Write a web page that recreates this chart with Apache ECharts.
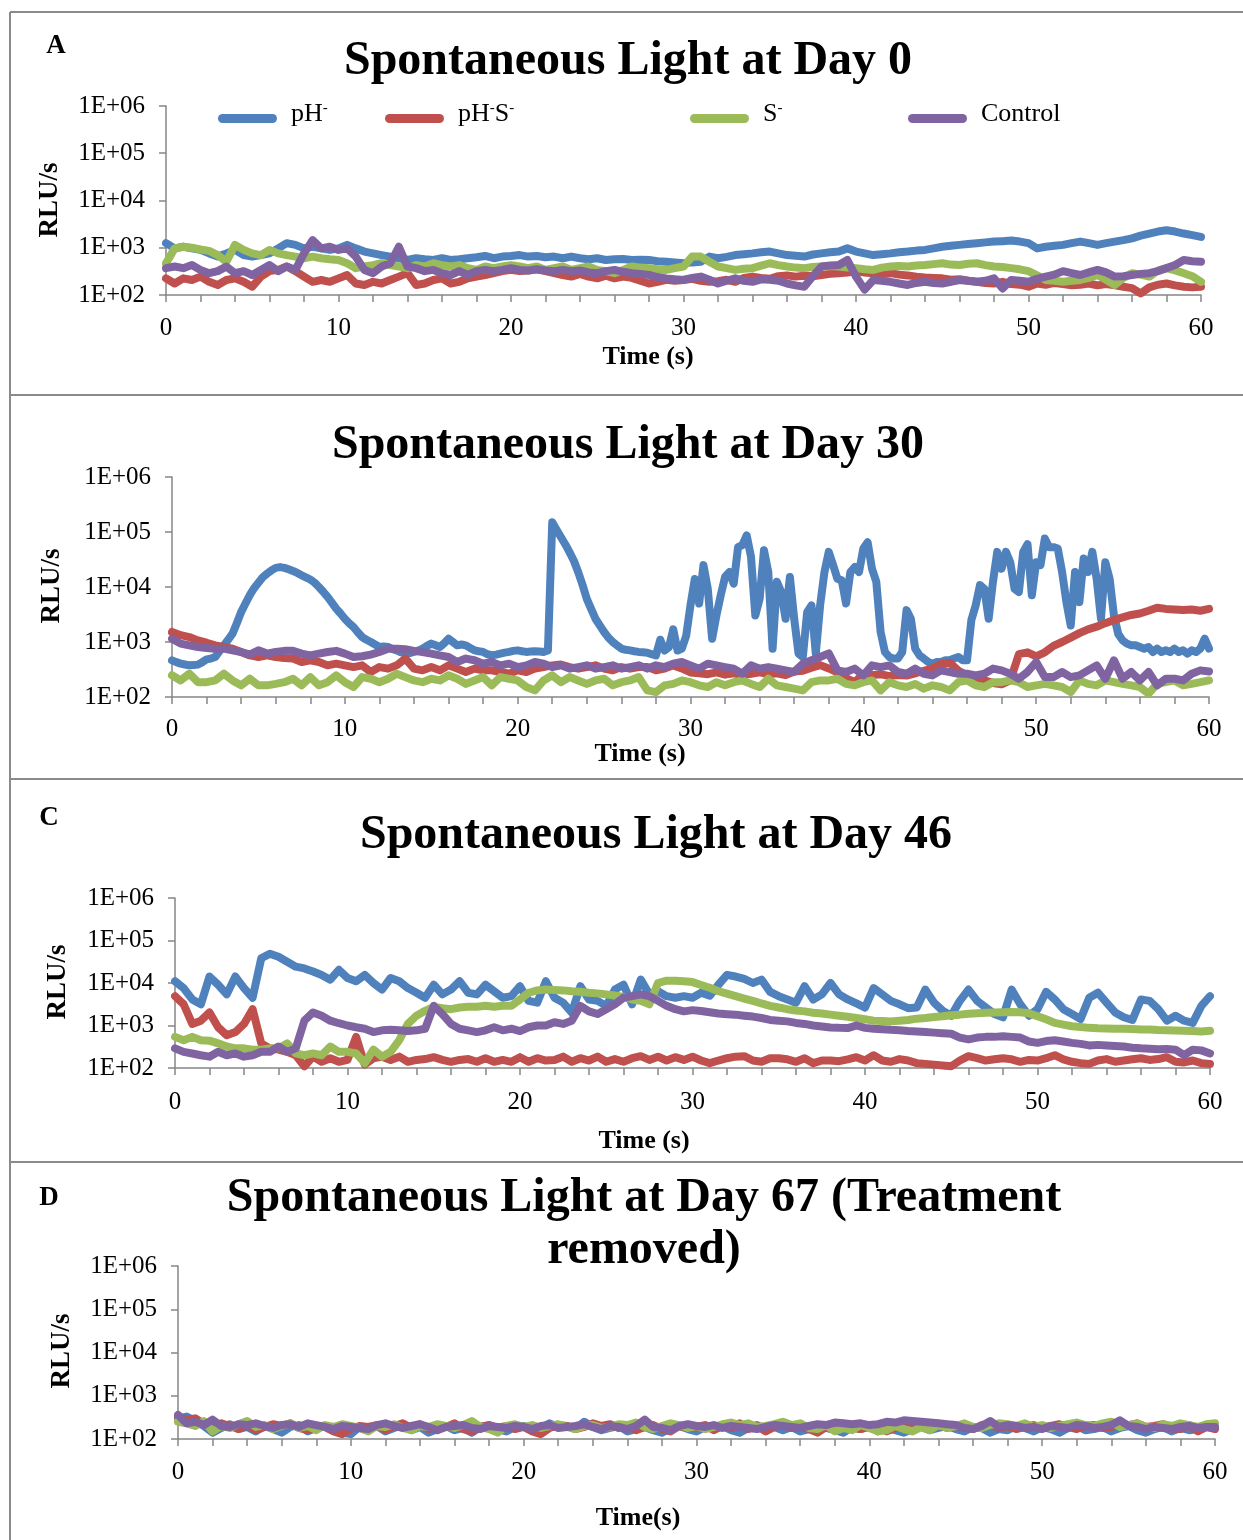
<!DOCTYPE html>
<html>
<head>
<meta charset="utf-8">
<title>Spontaneous Light</title>
<script src="https://cdn.jsdelivr.net/npm/echarts@6.0.0/dist/echarts.min.js"></script>
<style>
  html, body { margin: 0; padding: 0; background: #fff; }
  #chart { width: 1243px; height: 1540px; }
</style>
</head>
<body>
<div id="chart"></div>
<script>
// series names / colours (Excel 2007 palette)
var NAMES = ['pH-', 'pH-S-', 'S-', 'Control'];
var COLORS = ['#4f81bd', '#c0504d', '#9bbb59', '#8064a2'];
var yTickLabels = ['1E+02', '1E+03', '1E+04', '1E+05', '1E+06'];
var xMin = 0, xMax = 60, xStep = 10;

var STEP = 0.5;   // seconds between readings
var FINE = 0.25;  // finer readings for the spiky day-30 pH- trace

/* ---------- Day 0 ---------- */
var a0_ph = [
  1250, 970, 1050, 970, 900, 760, 650, 760, 900, 700,
  650, 700, 760, 970, 1250, 1150, 970, 1050, 970, 900,
  970, 1150, 970, 830, 760, 700, 650, 600, 550, 600,
  570, 550, 600, 550, 570, 600, 630, 670, 600, 650,
  670, 700, 650, 670, 630, 650, 600, 650, 600, 570,
  600, 550, 570, 580, 550, 560, 550, 520, 505, 490,
  470, 490, 505, 650, 600, 640, 700, 730, 760, 800,
  830, 760, 700, 680, 650, 720, 760, 800, 830, 970,
  830, 760, 700, 730, 760, 800, 830, 870, 900, 970,
  1050, 1100, 1150, 1200, 1250, 1300, 1350, 1380, 1420, 1350,
  1250, 970, 1050, 1100, 1150, 1250, 1350, 1250, 1150, 1250,
  1350, 1450, 1580, 1800, 2000, 2200, 2350, 2200, 2000, 1850,
  1700
];
var a0_phs = [
  225, 175, 225, 208, 245, 190, 163, 208, 225, 190,
  150, 245, 320, 340, 400, 320, 245, 190, 208, 190,
  225, 265, 175, 163, 190, 175, 208, 245, 290, 163,
  175, 208, 225, 175, 190, 225, 245, 265, 290, 320,
  340, 320, 330, 350, 320, 290, 265, 245, 280, 245,
  225, 255, 225, 245, 230, 200, 175, 190, 210, 200,
  208, 220, 200, 190, 195, 210, 190, 230, 245, 230,
  220, 250, 260, 245, 255, 250, 265, 280, 290, 300,
  320, 300, 290, 280, 290, 270, 260, 245, 235, 230,
  225, 210, 215, 200, 190, 180, 175, 190, 170, 165,
  150, 175, 165, 180, 170, 160, 165, 175, 160, 170,
  160, 150, 140, 108, 145, 165, 175, 160, 150, 145,
  150
];
var a0_s = [
  470, 970, 1050, 1000, 920, 860, 700, 505, 1150, 900,
  760, 700, 900, 760, 700, 650, 600, 650, 600, 570,
  550, 470, 370, 400, 430, 470, 430, 400, 370, 430,
  400, 470, 430, 400, 430, 370, 340, 400, 370, 400,
  430, 400, 370, 400, 340, 370, 400, 340, 370, 400,
  340, 320, 290, 340, 400, 380, 370, 350, 340, 370,
  400, 650, 650, 505, 400, 370, 340, 360, 370, 420,
  470, 430, 400, 380, 370, 390, 400, 410, 400, 380,
  370, 350, 340, 380, 400, 410, 400, 420, 430, 450,
  470, 440, 430, 460, 470, 430, 400, 390, 370, 350,
  320, 260, 208, 200, 190, 200, 208, 230, 265, 210,
  163, 230, 290, 270, 245, 330, 370, 330, 290, 250,
  190
];
var a0_ctrl = [
  370, 400, 370, 430, 340, 290, 320, 400, 290, 320,
  265, 340, 430, 320, 400, 340, 760, 1450, 970, 1050,
  900, 970, 650, 340, 290, 400, 470, 1050, 400, 370,
  320, 340, 290, 265, 320, 265, 320, 340, 320, 340,
  370, 340, 330, 350, 330, 320, 340, 320, 330, 300,
  290, 320, 340, 310, 290, 280, 265, 240, 225, 215,
  208, 230, 245, 210, 175, 200, 225, 200, 190, 215,
  210, 200, 175, 160, 150, 250, 400, 420, 430, 550,
  245, 130, 208, 200, 190, 175, 163, 180, 190, 180,
  175, 190, 208, 200, 190, 200, 225, 138, 208, 200,
  190, 220, 245, 270, 320, 290, 265, 300, 340, 300,
  245, 250, 265, 280, 290, 320, 370, 430, 550, 520,
  505
];

/* ---------- Day 30 ---------- */
var b30_ph = [
  464, 430, 405, 390,  376, 380, 388, 430,  483, 500, 533, 680,  870, 1100, 1415, 2200,
  3500, 5000, 7100, 9500,  12000, 15000, 17500, 20000,  22300, 23000, 22300, 21000,
  19600, 18000, 16300, 15000,  13700, 12000, 10000, 8200,  6600, 5200, 4050, 3300,
  2650, 2200, 1870, 1500,  1230, 1100, 1000, 900,  810, 830, 810, 750,  705, 650, 615, 630,
  660, 700, 760, 850,  935, 870, 810, 950,  1150, 1000, 870, 900,  870, 780, 705, 680,
  660, 600, 570, 590,  615, 640, 660, 690,  705, 680, 660, 670,  680, 670, 660, 700,
  150000, 110000, 81000, 60000,  43000, 30000, 18700, 11000,  6100, 4000, 2650, 2000,
  1520, 1200, 1000, 870,  760, 720, 705, 680,  660, 650, 640, 600,  570, 1100, 700, 800,
  1700, 700, 760, 1300,  4700, 14000, 5000, 25000,  9300, 1150, 3030, 7100,
  15200, 18700, 11500, 53000,  57600, 87000, 35500, 3030,  6100, 46500, 18700, 757,
  12400, 8100, 2650, 15200,  2650, 615, 534, 3500,  4640, 615, 4640, 18700,
  43500, 25000, 14100, 13200,  5000, 18700, 23000, 18700,  50000, 65000, 21500, 12400,
  1520, 658, 534, 500,  500, 658, 3800, 2650,  757, 570, 500, 433,  404, 433, 433, 465,
  465, 500, 534, 465,  465, 2500, 4640, 10800,  9300, 2650, 12400, 43500,
  21500, 43500, 28200, 9300,  8100, 43500, 60000, 7100,  28200, 25000, 76000, 53000,
  53000, 50000, 18700, 5300,  2000, 18700, 5300, 33000,  18700, 43500, 14100, 2650,
  28200, 14100, 3030, 1400,  1070, 935, 870, 870,  810, 757, 810, 658,  757, 658, 705, 658,
  757, 658, 705, 615,  705, 658, 757, 1150,
  757
];
var b30_phs = [
  1520, 1330, 1230, 1070, 970, 870, 810, 757, 658, 570,
  534, 570, 534, 510, 500, 433, 465, 433, 376, 404,
  376, 350, 376, 285, 350, 328, 376, 500, 328, 305,
  350, 305, 376, 328, 285, 328, 305, 305, 285, 265,
  305, 285, 328, 350, 376, 390, 350, 328, 350, 376,
  328, 305, 350, 328, 350, 350, 305, 328, 376, 330,
  280, 270, 260, 280, 255, 270, 250, 265, 280, 260,
  270, 250, 290, 300, 340, 380, 330, 280, 220, 186,
  260, 250, 260, 240, 250, 245, 270, 300, 330, 400,
  420, 300, 250, 220, 200, 180, 170, 200, 600, 650,
  550, 650, 850, 1000, 1200, 1450, 1700, 1900, 2200, 2500,
  2800, 3100, 3300, 3700, 4200, 4000, 3900, 3800, 3900, 3700,
  4000
];
var b30_s = [
  248, 200, 265, 186, 186, 200, 265, 200, 163, 215,
  163, 163, 173, 186, 215, 163, 230, 163, 186, 248,
  186, 152, 230, 215, 186, 215, 265, 230, 200, 186,
  215, 200, 248, 215, 173, 200, 230, 163, 230, 215,
  200, 152, 132, 200, 248, 186, 230, 200, 173, 200,
  215, 163, 186, 200, 230, 132, 123, 163, 173, 200,
  186, 163, 152, 186, 163, 186, 200, 173, 152, 215,
  163, 152, 142, 132, 186, 200, 200, 215, 173, 163,
  186, 200, 132, 186, 163, 152, 173, 142, 163, 152,
  132, 186, 200, 163, 152, 186, 186, 200, 186, 152,
  163, 173, 163, 152, 123, 200, 173, 163, 200, 186,
  173, 163, 152, 115, 173, 186, 200, 163, 173, 186,
  200
];
var b30_ctrl = [
  1150, 935, 870, 810, 780, 757, 757, 705, 658, 590,
  705, 615, 658, 690, 690, 615, 570, 615, 658, 690,
  615, 534, 550, 590, 658, 757, 757, 740, 690, 658,
  615, 570, 534, 433, 500, 465, 404, 433, 376, 404,
  350, 376, 433, 404, 350, 376, 328, 350, 376, 328,
  350, 376, 328, 350, 376, 328, 376, 350, 404, 433,
  376, 328, 404, 376, 350, 328, 265, 376, 328, 350,
  328, 305, 285, 404, 465, 534, 620, 305, 285, 328,
  247, 376, 350, 376, 285, 265, 328, 265, 247, 305,
  285, 265, 265, 247, 265, 328, 305, 265, 215, 285,
  433, 230, 230, 285, 230, 247, 305, 376, 215, 465,
  215, 285, 200, 285, 163, 215, 215, 200, 265, 305,
  290
];

/* ---------- Day 46 ---------- */
var c46_ph = [
  11000, 7600, 4100, 3160, 14200, 9100, 5400, 14200, 7600, 4500,
  38000, 49000, 41500, 31600, 24200, 22000, 18600, 15500, 12000, 20400,
  13100, 11000, 15500, 10000, 7000, 13100, 11000, 7600, 5900, 4500,
  9100, 5400, 7000, 11000, 5900, 5400, 9100, 6400, 4500, 4900,
  8400, 3800, 3450, 11000, 4500, 3450, 2000, 8400, 4100, 3800,
  2900, 7000, 9100, 3160, 12000, 5400, 6400, 4900, 4500, 4900,
  4500, 5900, 5000, 9100, 15500, 14200, 12500, 10000, 12000, 6200,
  4900, 4100, 3450, 8400, 4100, 5400, 10000, 5400, 4100, 3300,
  2650, 7600, 5400, 3800, 3160, 2550, 2650, 7000, 3450, 2220,
  1700, 3800, 7000, 3800, 2650, 1860, 1560, 7000, 3160, 1700,
  2420, 6200, 4100, 2420, 1860, 1420, 4500, 5900, 3450, 2030,
  1560, 1350, 4100, 3800, 2420, 1300, 1700, 1300, 1150, 2900,
  4900
];
var c46_phs = [
  4900, 3160, 1090, 1300, 2030, 910, 590, 700, 1090, 2420,
  380, 290, 270, 240, 200, 110, 185, 140, 170, 140,
  155, 540, 120, 170, 185, 155, 185, 140, 155, 162,
  180, 155, 140, 155, 162, 140, 170, 140, 155, 140,
  180, 140, 170, 150, 155, 185, 140, 170, 150, 185,
  140, 162, 140, 170, 190, 155, 185, 150, 180, 155,
  185, 150, 130, 150, 170, 185, 190, 150, 140, 170,
  170, 160, 140, 170, 130, 150, 150, 145, 160, 180,
  150, 200, 150, 140, 162, 150, 130, 125, 120, 115,
  110, 150, 190, 170, 150, 160, 170, 160, 140, 155,
  150, 170, 200, 160, 140, 130, 125, 150, 162, 140,
  150, 160, 170, 155, 162, 180, 140, 135, 150, 130,
  125
];
var c46_s = [
  540, 450, 540, 450, 440, 380, 320, 290, 290, 270,
  270, 290, 290, 380, 220, 200, 220, 200, 320, 240,
  240, 220, 130, 270, 185, 240, 450, 1090, 1700, 2220,
  2750, 2550, 2420, 2650, 2750, 2750, 2900, 2750, 2900, 2900,
  4100, 5900, 6700, 7000, 6800, 6700, 6400, 6200, 5900, 5700,
  5400, 5100, 4700, 4100, 3800, 3160, 10000, 11300, 11300, 11000,
  10500, 9000, 7700, 6400, 5600, 4900, 4300, 3800, 3300, 2900,
  2650, 2420, 2250, 2150, 2000, 1920, 1800, 1700, 1600, 1500,
  1400, 1300, 1270, 1250, 1300, 1350, 1450, 1500, 1580, 1650,
  1750, 1800, 1900, 1950, 2000, 2020, 2050, 2070, 2050, 1950,
  1650, 1400, 1150, 1050, 960, 920, 880, 860, 850, 840,
  840, 830, 810, 800, 780, 770, 760, 750, 740, 720,
  750
];
var c46_ctrl = [
  290, 240, 220, 200, 185, 240, 200, 220, 185, 200,
  240, 240, 320, 240, 290, 1300, 2030, 1700, 1300, 1130,
  1000, 910, 840, 700, 770, 790, 770, 740, 770, 840,
  2900, 1860, 1090, 840, 770, 700, 770, 910, 770, 840,
  740, 910, 1000, 1000, 1190, 1090, 1300, 2900, 2150, 1860,
  2420, 3160, 4500, 4900, 5400, 4900, 3800, 2900, 2420, 2150,
  2300, 2200, 2050, 1920, 1850, 1800, 1700, 1620, 1500, 1350,
  1300, 1250, 1150, 1090, 1000, 950, 900, 880, 870, 1000,
  880, 840, 820, 790, 770, 740, 720, 700, 680, 660,
  640, 520, 470, 520, 540, 540, 560, 540, 520, 420,
  390, 430, 450, 420, 390, 370, 340, 350, 340, 330,
  320, 300, 290, 285, 275, 280, 270, 200, 270, 260,
  220
];

/* ---------- Day 67 (treatment removed) ---------- */
var d67_ph = [
  300, 330, 260, 200, 140, 180, 220, 170, 190, 150,
  200, 170, 140, 190, 210, 150, 180, 200, 160, 140,
  130, 190, 170, 200, 150, 180, 210, 160, 190, 140,
  170, 200, 160, 180, 140, 190, 210, 170, 150, 190,
  200, 160, 180, 230, 190, 200, 170, 250, 190, 160,
  180, 200, 150, 170, 190, 160, 140, 180, 200, 170,
  150, 190, 170, 200, 160, 140, 180, 210, 170, 190,
  160, 190, 150, 170, 200, 180, 160, 140, 190, 170,
  200, 150, 180, 160, 140, 170, 190, 160, 180, 200,
  170, 150, 190, 180, 140, 170, 160, 200, 180, 150,
  190, 170, 140, 180, 200, 160, 170, 190, 150, 180,
  200, 160, 140, 170, 190, 150, 180, 160, 170, 190,
  180
];
var d67_phs = [
  330, 280, 300, 220, 190, 230, 200, 170, 210, 160,
  190, 220, 200, 230, 180, 160, 200, 190, 150, 130,
  170, 200, 190, 210, 160, 200, 230, 180, 220, 170,
  200, 190, 230, 170, 150, 190, 210, 180, 200, 170,
  190, 150, 130, 180, 210, 200, 170, 190, 230, 200,
  220, 180, 200, 160, 190, 210, 170, 150, 200, 180,
  190, 210, 160, 200, 180, 230, 170, 200, 150, 190,
  210, 180, 200, 170, 140, 190, 220, 200, 180, 170,
  190, 210, 150, 180, 200, 230, 190, 170, 210, 180,
  200, 190, 170, 210, 220, 180, 200, 170, 190, 210,
  180, 200, 220, 190, 170, 200, 210, 180, 190, 230,
  210, 230, 190, 200, 220, 180, 170, 210, 150, 190,
  170
];
var d67_s = [
  250, 230, 200, 260, 150, 200, 180, 220, 260, 190,
  210, 170, 200, 230, 180, 200, 160, 210, 190, 220,
  200, 180, 150, 200, 190, 220, 180, 160, 200, 190,
  220, 200, 180, 210, 260, 190, 170, 140, 200, 220,
  190, 210, 180, 200, 220, 190, 170, 200, 210, 180,
  190, 220, 210, 240, 190, 170, 200, 230, 210, 180,
  200, 170, 190, 220, 240, 210, 230, 190, 200, 220,
  250, 210, 230, 180, 170, 210, 150, 180, 160, 210,
  180, 150, 160, 200, 170, 150, 190, 160, 210, 180,
  200, 230, 190, 180, 210, 230, 220, 200, 230, 190,
  210, 180, 200, 220, 240, 210, 200, 230, 250, 190,
  210, 230, 190, 180, 220, 200, 230, 210, 190, 220,
  230
];
var d67_ctrl = [
  360, 230, 250, 210, 280, 200, 190, 220, 210, 230,
  200, 180, 210, 220, 190, 230, 210, 190, 170, 200,
  190, 180, 170, 210, 230, 200, 180, 200, 220, 190,
  160, 190, 200, 210, 180, 170, 200, 190, 180, 200,
  190, 170, 200, 210, 180, 190, 200, 220, 190, 170,
  200, 190, 170, 200, 280, 190, 180, 160, 200, 220,
  200, 190, 210, 180, 200, 190, 180, 170, 190, 210,
  200, 190, 180, 200, 220, 210, 240, 230, 220, 230,
  210, 220, 250, 240, 270, 260, 250, 240, 230, 220,
  210, 180, 170, 200, 260, 190, 210, 200, 180, 190,
  170, 200, 190, 180, 210, 200, 180, 190, 210, 270,
  200, 190, 170, 190, 180, 170, 190, 200, 180, 190,
  190
];

var FONT = '"Liberation Serif", "Times New Roman", serif';
var AXIS_GRAY = '#868686';

// one panel = one grid
var panels = [
  {grid: {left: 166, top: 106, width: 1035, height: 189}, labelMargin: 21,
   data: [a0_ph, a0_phs, a0_s, a0_ctrl], steps: [STEP, STEP, STEP, STEP]},
  {grid: {left: 172, top: 477, width: 1037, height: 220}, labelMargin: 20,
   data: [b30_ph, b30_phs, b30_s, b30_ctrl], steps: [FINE, STEP, STEP, STEP]},
  {grid: {left: 175, top: 898, width: 1035, height: 170}, labelMargin: 22,
   data: [c46_ph, c46_phs, c46_s, c46_ctrl], steps: [STEP, STEP, STEP, STEP]},
  {grid: {left: 178, top: 1266, width: 1037, height: 173}, labelMargin: 21,
   data: [d67_ph, d67_phs, d67_s, d67_ctrl], steps: [STEP, STEP, STEP, STEP]}
];

function toPoints(vals, dt) {
  return vals.map(function (v, i) { return [Math.round(i * dt * 100) / 100, v]; });
}

var grids = [], xAxes = [], yAxes = [], series = [];
panels.forEach(function (p, pi) {
  grids.push(Object.assign({containLabel: false, outerBoundsMode: 'none'}, p.grid));
  xAxes.push({
    type: 'value', gridIndex: pi, min: xMin, max: xMax, interval: xStep,
    axisLine: {show: true, lineStyle: {color: AXIS_GRAY, width: 1.5}},
    axisTick: {show: true, length: 7, lineStyle: {color: AXIS_GRAY, width: 1.5}},
    minorTick: {show: true, splitNumber: 5, length: 7, lineStyle: {color: AXIS_GRAY, width: 1.5}},
    splitLine: {show: false},
    axisLabel: {fontFamily: FONT, fontSize: 25, color: '#000', margin: p.labelMargin}
  });
  yAxes.push({
    type: 'log', logBase: 10, gridIndex: pi, min: 100, max: 1e6,
    axisLine: {show: true, lineStyle: {color: AXIS_GRAY, width: 1.5}},
    axisTick: {show: true, length: 7, lineStyle: {color: AXIS_GRAY, width: 1.5}},
    splitLine: {show: false},
    axisLabel: {
      fontFamily: FONT, fontSize: 25, color: '#000', margin: 21,
      formatter: function (v) { return yTickLabels[Math.round(Math.log10(v)) - 2]; }
    }
  });
  p.data.forEach(function (vals, k) {
    series.push({
      type: 'line', name: NAMES[k], xAxisIndex: pi, yAxisIndex: pi,
      data: toPoints(vals, p.steps[k]),
      showSymbol: false, symbol: 'none', clip: true, silent: true,
      color: COLORS[k],
      lineStyle: {width: 8, color: COLORS[k], cap: 'round', join: 'round'},
      emphasis: {disabled: true}
    });
  });
});

// legend: Excel spreads the four entries unevenly, so one legend per entry
var legendX = [213, 380, 685, 903];
var legendText = {'pH-': 'pH{u|-}', 'pH-S-': 'pH{u|-}S{u|-}', 'S-': 'S{u|-}', 'Control': 'Control'};
var legends = NAMES.map(function (n, i) {
  return {
    data: [n], left: legendX[i], top: 96, selectedMode: false,
    icon: 'path://M4.5,0 H54.5 A4.5,4.5 0 0 1 54.5,9 H4.5 A4.5,4.5 0 0 1 4.5,0 Z',
    itemWidth: 59, itemHeight: 9,
    formatter: function (name) { return legendText[name]; },
    textStyle: {
      fontFamily: FONT, fontSize: 26, color: '#000', padding: [0, 0, 9, 9],
      rich: {u: {fontFamily: FONT, fontSize: 15, color: '#000', verticalAlign: 'top'}}
    }
  };
});

// frame lines, panel letters, titles and axis names
function txt(x, y, s, size, rot) {
  return {
    type: 'text', x: x, y: y, rotation: rot || 0, silent: true,
    style: {text: s, fill: '#000', font: 'bold ' + size + 'px ' + FONT, align: 'center', verticalAlign: 'middle'}
  };
}
function hline(y) {
  return {type: 'line', silent: true, shape: {x1: 10, y1: y, x2: 1243, y2: y},
          style: {stroke: '#8a8a8a', lineWidth: 2}};
}
var graphics = [
  hline(12), hline(395), hline(779), hline(1162),
  {type: 'line', silent: true, shape: {x1: 10, y1: 12, x2: 10, y2: 1540}, style: {stroke: '#8a8a8a', lineWidth: 2}},
  txt(56, 46, 'A', 27), txt(49, 818, 'C', 27), txt(49, 1198, 'D', 27),
  txt(628, 62, 'Spontaneous Light at Day 0', 48),
  txt(628, 446, 'Spontaneous Light at Day 30', 48),
  txt(656, 836, 'Spontaneous Light at Day 46', 48),
  txt(644, 1199, 'Spontaneous Light at Day 67 (Treatment', 48),
  txt(644, 1251, 'removed)', 48),
  txt(648, 357, 'Time (s)', 26), txt(640, 754, 'Time (s)', 26),
  txt(644, 1141, 'Time (s)', 26), txt(638, 1518, 'Time(s)', 26),
  txt(50, 200, 'RLU/s', 27, Math.PI / 2), txt(52, 586, 'RLU/s', 27, Math.PI / 2),
  txt(58, 982, 'RLU/s', 27, Math.PI / 2), txt(62, 1351, 'RLU/s', 27, Math.PI / 2)
];

var chart = echarts.init(document.getElementById('chart'));
chart.setOption({
  backgroundColor: '#fff',
  animation: false,
  legend: legends,
  grid: grids,
  xAxis: xAxes,
  yAxis: yAxes,
  series: series,
  graphic: graphics
});
</script>
</body>
</html>
